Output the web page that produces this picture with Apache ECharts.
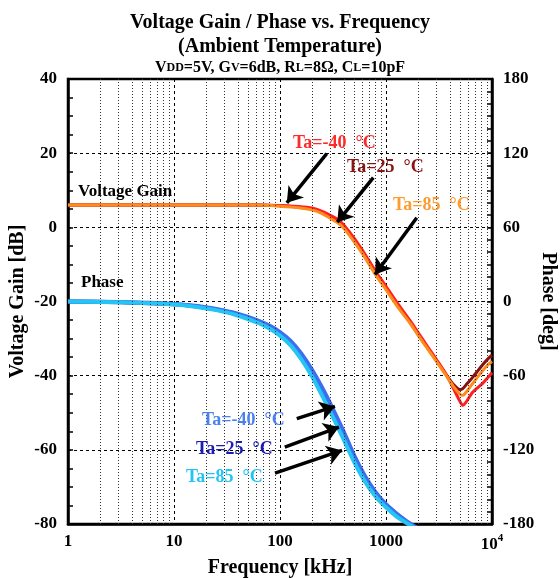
<!DOCTYPE html>
<html><head><meta charset="utf-8">
<script src="https://cdn.jsdelivr.net/npm/echarts@6/dist/echarts.min.js"></script>
<style>html,body{margin:0;padding:0;background:#fff}#c{width:560px;height:578px}</style>
</head><body><div id="c"></div>
<script>
// ---- data (kHz, dB, deg) ----
const gainFreq = [1, 10, 30, 60, 100, 150, 200, 250, 300, 370, 450, 600, 790, 1000, 1300, 1700, 2000, 2500, 3000, 3700, 4300, 5000, 5300, 5800, 6500, 7200, 8200, 9200, 10000];
const gainM40 = [6.0, 6.0, 6.0, 6.0, 5.9, 5.6, 5.2, 4.3, 3.2, 1.6, -1.2, -6.2, -11.7, -15.9, -20.7, -25.3, -28.3, -32.4, -35.7, -39.7, -43.3, -47.0, -48.0, -46.8, -44.6, -43.4, -42.0, -40.4, -39.2];
const gain25 = [6.0, 6.0, 6.0, 6.0, 5.8, 5.4, 4.9, 3.9, 2.7, 1.0, -1.8, -6.8, -12.3, -16.5, -21.3, -25.8, -28.8, -32.8, -36.0, -39.8, -42.3, -43.8, -43.5, -42.2, -40.6, -39.0, -37.0, -35.4, -34.5];
const gain85 = [6.0, 6.0, 6.0, 6.0, 5.7, 5.3, 4.7, 3.7, 2.4, 0.7, -2.1, -7.1, -12.6, -16.8, -21.6, -26.0, -29.0, -33.0, -36.2, -40.0, -42.8, -45.0, -45.3, -44.2, -42.3, -40.6, -38.6, -37.0, -36.2];

const phaseFreq = [1, 3.16, 10, 15.8, 25.1, 39.8, 63.1, 79.4, 100, 126, 158, 200, 251, 316, 398, 501, 631, 794, 1000, 1259, 1585, 1995];
const phaseM40 = [0, -0.5, -2.0, -3.5, -6.1, -9.9, -15.6, -19.5, -24.7, -31.8, -41.8, -55, -70, -87, -105, -124.5, -141, -154, -164, -171.5, -178, -183.5];
const phase25 = [0, -0.6, -2.2, -3.8, -6.5, -10.5, -16.5, -20.5, -26, -33.5, -44, -57.5, -73, -90, -108, -127, -143, -155.5, -165, -172.5, -178.5, -184];
const phase85 = [0, -0.7, -2.5, -4.2, -7.0, -11.3, -17.6, -21.8, -27.6, -35.5, -46.5, -60.5, -76.5, -93.5, -111.5, -130, -145.5, -157.5, -166.5, -174, -179.5, -185];

const xTickValues = [1, 10, 100, 1000, 10000];
const xTickLabels = ['1', '10', '100', '1000', '{n|10}{sup|4}'];
const gainTickRange = [-80, 40, 20];
const phaseTickRange = [-180, 180, 60];

// arrows: [fromFreq, fromValue, toFreq, toValue]
const gainArrows = [[276, 19.9, 116, 6.6], [759, 13.4, 347, 1.4], [1950, 2.6, 788, -12.7]];
const phaseArrows = [[144, -94.8, 330, -84.9], [111, -117.8, 360, -101.6], [89.7, -138.8, 385, -120.5]];

const seriesNames = ['Ta=-40  °C', 'Ta=25  °C', 'Ta=85  °C'];

// ---- style ----
const F = '"Liberation Serif", "Times New Roman", serif';
const gainColors = ['#ff1f1f', '#8a0f0f', '#ff8c1a'];
const gainTextColors = ['#ff2a2a', '#8b1515', '#ff9a2e'];
const phaseColors = ['#3b6ff0', '#1f1fc0', '#24c4f4'];
const phaseTextColors = ['#4a80f0', '#1c1cb4', '#22c4f4'];

const minorFreqs = [];
for (let d = 1; d < 10000; d *= 10) for (let k = 2; k <= 9; k++) minorFreqs.push(k * d);

function pts(xs, ys) { return xs.map((x, i) => [x, ys[i]]); }

const chart = echarts.init(document.getElementById('c'), null, {renderer: 'canvas'});

const lbl = {color: '#000', fontSize: 17, fontWeight: 'bold', fontFamily: F};
const nameStyle = {color: '#000', fontSize: 20, fontWeight: 'bold', fontFamily: F};
const annFont = 'bold 18px ' + F;

function arrowLines(arr) {
  return arr.map(a => [{coord: [a[0], a[1]]}, {coord: [a[2], a[3]]}]);
}

const option = {
  animation: false,
  backgroundColor: '#fff',
  title: [
    {text: 'Voltage Gain / Phase vs. Frequency', left: 'center', top: 8, textStyle: {color: '#000', fontSize: 20, fontWeight: 'bold', fontFamily: F}},
    {text: '(Ambient Temperature)', left: 'center', top: 32, textStyle: {color: '#000', fontSize: 20, fontWeight: 'bold', fontFamily: F}},
    {text: 'V{s|DD}=5V, G{s|V}=6dB, R{s|L}=8Ω, C{s|L}=10pF', left: 'center', top: 55,
     textStyle: {color: '#000', fontSize: 16, fontWeight: 'bold', fontFamily: F,
       rich: {s: {fontSize: 12, fontWeight: 'bold', fontFamily: F, color: '#000'}}}}
  ],
  grid: {left: 68, right: 68, top: 79, bottom: 54, show: true, borderColor: '#000', borderWidth: 2.5, containLabel: false, outerBoundsMode: 'none'},
  xAxis: {
    type: 'log', logBase: 10, min: 1, max: 10000,
    axisLine: {show: true, onZero: false, lineStyle: {color: '#000', width: 2.5}},
    axisTick: {show: false},
    splitLine: {show: true, lineStyle: {color: '#000', width: 1, type: [3, 3]}},
    axisLabel: Object.assign({}, lbl, {
      margin: 9,
      formatter: function (v) { const i = Math.round(Math.log10(v)); return xTickLabels[i] !== undefined ? xTickLabels[i] : ''; },
      rich: {
        n: {fontSize: 17, fontWeight: 'bold', fontFamily: F, color: '#000', verticalAlign: 'bottom'},
        sup: {fontSize: 11, fontWeight: 'bold', fontFamily: F, color: '#000', verticalAlign: 'bottom', padding: [0, 0, 9, 0]}
      }
    }),
    name: 'Frequency [kHz]', nameLocation: 'middle', nameGap: 33, nameTextStyle: nameStyle
  },
  yAxis: [
    {
      type: 'value', min: gainTickRange[0], max: gainTickRange[1], interval: gainTickRange[2], position: 'left',
      axisLine: {show: true, onZero: false, lineStyle: {color: '#000', width: 2.5}},
      axisTick: {show: true, inside: true, length: 5, lineStyle: {color: '#000', width: 1.5}},
      minorTick: {show: true, splitNumber: 4, length: 5, lineStyle: {color: '#000', width: 1.5}},
      splitLine: {show: true, lineStyle: {color: '#000', width: 1, type: [3, 3]}},
      axisLabel: Object.assign({}, lbl, {margin: 11}),
      name: 'Voltage Gain [dB]', nameLocation: 'middle', nameGap: 40, nameMoveOverlap: false, nameTextStyle: nameStyle
    },
    {
      type: 'value', min: phaseTickRange[0], max: phaseTickRange[1], interval: phaseTickRange[2], position: 'right',
      axisLine: {show: true, onZero: false, lineStyle: {color: '#000', width: 2.5}},
      axisTick: {show: true, inside: true, length: 5, lineStyle: {color: '#000', width: 1.5}},
      minorTick: {show: true, splitNumber: 6, length: 5, lineStyle: {color: '#000', width: 1.5}},
      splitLine: {show: false},
      axisLabel: Object.assign({}, lbl, {margin: 11}),
      name: 'Phase [deg]', nameLocation: 'middle', nameRotate: -90, nameGap: 46, nameMoveOverlap: false, nameTextStyle: nameStyle
    }
  ],
  series: [
    {
      type: 'line', z: 1, silent: true, showSymbol: false, data: pts(gainFreq, gain25),
      lineStyle: {opacity: 0},
      markLine: {silent: true, symbol: 'none', label: {show: false}, animation: false,
        lineStyle: {type: [1, 2], color: '#333', width: 1},
        data: minorFreqs.map(f => ({xAxis: f}))}
    },
    {name: seriesNames[1], type: 'line', z: 2, showSymbol: false, smooth: 0.25, data: pts(gainFreq, gain25), lineStyle: {color: gainColors[1], width: 3}},
    {name: seriesNames[0], type: 'line', z: 2, showSymbol: false, smooth: 0.25, data: pts(gainFreq, gainM40), lineStyle: {color: gainColors[0], width: 3}},
    {name: seriesNames[2], type: 'line', z: 2, showSymbol: false, smooth: 0.25, data: pts(gainFreq, gain85), lineStyle: {color: gainColors[2], width: 3}},
    {name: seriesNames[1], type: 'line', yAxisIndex: 1, z: 2, showSymbol: false, smooth: 0.25, data: pts(phaseFreq, phase25), lineStyle: {color: phaseColors[1], width: 4}},
    {name: seriesNames[0], type: 'line', yAxisIndex: 1, z: 2, showSymbol: false, smooth: 0.25, data: pts(phaseFreq, phaseM40), lineStyle: {color: phaseColors[0], width: 4}},
    {name: seriesNames[2], type: 'line', yAxisIndex: 1, z: 2, showSymbol: false, smooth: 0.25, data: pts(phaseFreq, phase85), lineStyle: {color: phaseColors[2], width: 4}},
    {
      type: 'line', z: 5, silent: true, showSymbol: false, data: pts(gainFreq, gain25), lineStyle: {opacity: 0},
      markLine: {silent: true, symbol: ['none', 'arrow'], symbolSize: 15, label: {show: false}, animation: false,
        lineStyle: {type: 'solid', color: '#000', width: 3.5}, data: arrowLines(gainArrows)}
    },
    {
      type: 'line', yAxisIndex: 1, z: 5, silent: true, showSymbol: false, data: pts(phaseFreq, phase25), lineStyle: {opacity: 0},
      markLine: {silent: true, symbol: ['none', 'arrow'], symbolSize: 15, label: {show: false}, animation: false,
        lineStyle: {type: 'solid', color: '#000', width: 3.5}, data: arrowLines(phaseArrows)}
    }
  ],
  graphic: [
    {type: 'text', x: 78, y: 192, z: 10, style: {text: 'Voltage Gain', font: 'bold 17px ' + F, fill: '#000', align: 'left', verticalAlign: 'middle'}},
    {type: 'text', x: 81, y: 283, z: 10, style: {text: 'Phase', font: 'bold 17px ' + F, fill: '#000', align: 'left', verticalAlign: 'middle'}},
    {type: 'text', x: 293, y: 143, z: 10, style: {text: seriesNames[0], font: annFont, fill: gainTextColors[0], align: 'left', verticalAlign: 'middle'}},
    {type: 'text', x: 347, y: 167, z: 10, style: {text: seriesNames[1], font: annFont, fill: gainTextColors[1], align: 'left', verticalAlign: 'middle'}},
    {type: 'text', x: 393, y: 205, z: 10, style: {text: seriesNames[2], font: annFont, fill: gainTextColors[2], align: 'left', verticalAlign: 'middle'}},
    {type: 'text', x: 202, y: 420, z: 10, style: {text: seriesNames[0], font: annFont, fill: phaseTextColors[0], align: 'left', verticalAlign: 'middle'}},
    {type: 'text', x: 196, y: 449, z: 10, style: {text: seriesNames[1], font: annFont, fill: phaseTextColors[1], align: 'left', verticalAlign: 'middle'}},
    {type: 'text', x: 186, y: 477, z: 10, style: {text: seriesNames[2], font: annFont, fill: phaseTextColors[2], align: 'left', verticalAlign: 'middle'}}
  ]
};
chart.setOption(option);
</script>
</body></html>
